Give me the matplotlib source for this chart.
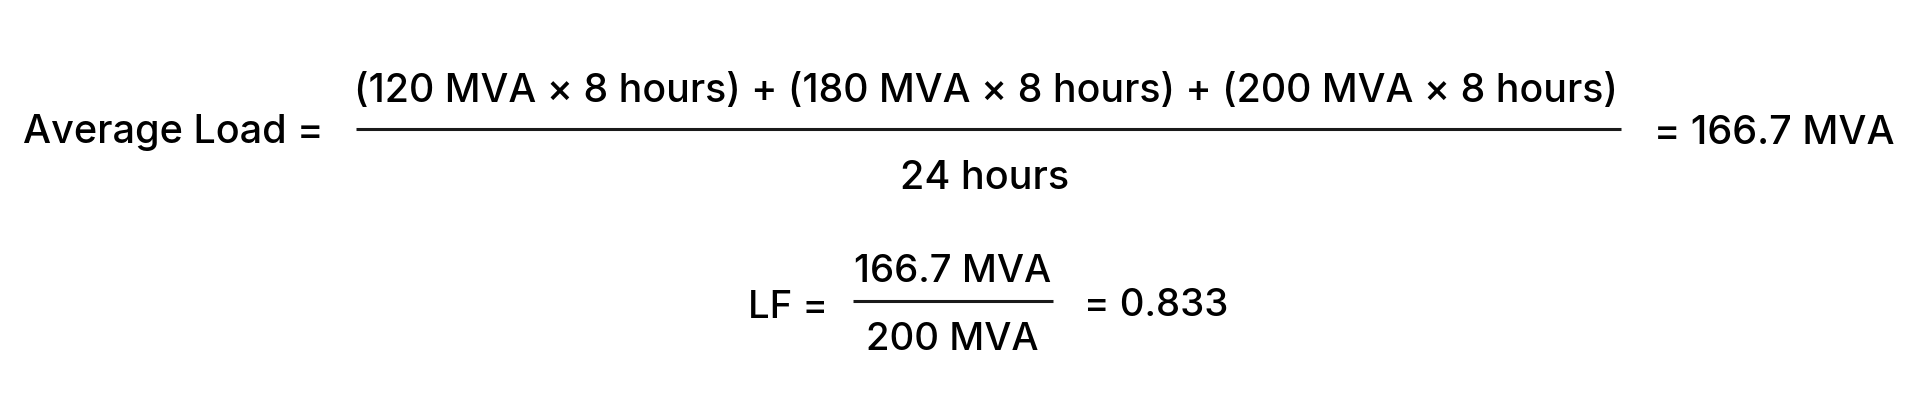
import matplotlib
matplotlib.use("Agg")
import matplotlib.pyplot as plt

# ---- data ----
loads_mva = [120, 180, 200]
durations_h = [8, 8, 8]
total_hours = 24
average_load = 166.7
peak_load = 200
load_factor = 0.833

FONT = ["Inter", "DejaVu Sans"]
W, H = 1920, 401
fig = plt.figure(figsize=(W / 100, H / 100), dpi=100)
ax = fig.add_axes([0, 0, 1, 1])
ax.set_xlim(0, W)
ax.set_ylim(H, 0)
ax.axis("off")

fs1 = 28.5
fs2 = 27.6

numerator = " + ".join(f"({l} MVA \u00d7 {d} hours)" for l, d in zip(loads_mva, durations_h))

def txt(x, y, s, fs, ha="left"):
    ax.text(x, y, s, fontsize=fs, family=FONT, fontweight="medium",
            ha=ha, va="baseline", color="black")

# Equation 1
txt(23, 143, "Average Load =", fs1)
txt(986, 102, numerator, 28.3, ha="center")
ax.plot([356, 1621], [129, 129], color="#1a1a1a", lw=2.2, solid_capstyle="butt")
txt(985, 189, f"{total_hours} hours", fs1, ha="center")
txt(1654, 144, f"= {average_load} MVA", fs1)

# Equation 2
txt(748, 318, "LF =", fs2)
txt(953, 282, f"{average_load} MVA", fs2, ha="center")
ax.plot([853, 1053], [301, 301], color="#1a1a1a", lw=2.2, solid_capstyle="butt")
txt(952, 350, f"{peak_load} MVA", fs2, ha="center")
txt(1084, 316, f"= {load_factor}", fs2)

fig.savefig("out.png", dpi=100, facecolor="white")
